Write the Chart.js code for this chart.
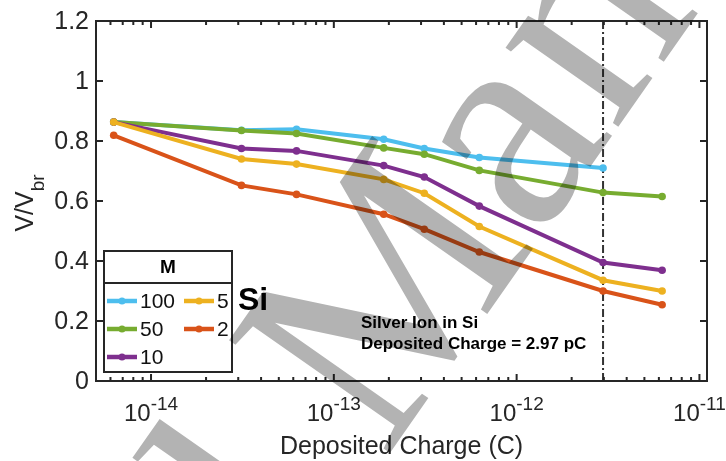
<!DOCTYPE html>
<html>
<head>
<meta charset="utf-8">
<script src="https://cdn.jsdelivr.net/npm/chart.js@4/dist/chart.umd.min.js"></script>
<style>
  html, body { margin: 0; padding: 0; background: #fff; }
  #wrap { width: 726px; height: 461px; }
  canvas { display: block; }
</style>
</head>
<body>
<div id="wrap"><canvas id="c" width="726" height="461"></canvas></div>
<script>
// Deposited charge (C) for each simulation point
const depositedCharge = [6.25e-15, 3.125e-14, 6.25e-14, 1.875e-13, 3.125e-13, 6.25e-13, 2.97e-12, 6.25e-12];

// Normalised voltage V/Vbr for each multiplication factor M
const vM100 = [0.863, 0.836, 0.839, 0.806, 0.775, 0.745, 0.710, null];
const vM50  = [0.863, 0.835, 0.825, 0.777, 0.756, 0.702, 0.628, 0.615];
const vM10  = [0.863, 0.775, 0.767, 0.718, 0.680, 0.583, 0.395, 0.369];
const vM5   = [0.863, 0.740, 0.723, 0.672, 0.626, 0.515, 0.336, 0.300];
const vM2   = [0.819, 0.652, 0.622, 0.556, 0.506, 0.430, 0.300, 0.254];

const seriesLabels = ['100', '50', '10', '5', '2'];
const seriesValues = [vM100, vM50, vM10, vM5, vM2];

// Axis ticks
const yTickValues = [0, 0.2, 0.4, 0.6, 0.8, 1, 1.2];
const yTickLabels = ['0', '0.2', '0.4', '0.6', '0.8', '1', '1.2'];
const xTickExponents = [-14, -13, -12, -11];
const xTickLabels = ['-14', '-13', '-12', '-11'];

// Reference charge marked with the vertical line
const markerCharge = 2.97e-12;

const colors = ['#4DBEEE', '#77AC30', '#7E2F8E', '#EDB120', '#D95319'];
const drawOrder = [5, 4, 3, 2, 1];

const AXIS = '#262626';
const SANS = '"Liberation Sans", Arial, sans-serif';

const datasets = seriesValues.map((vals, k) => ({
  label: seriesLabels[k],
  data: depositedCharge.map((x, i) => ({ x: x, y: vals[i] })).filter(p => p.y !== null),
  borderColor: colors[k],
  backgroundColor: colors[k],
  borderWidth: 4,
  pointRadius: 3.8,
  pointBorderWidth: 0,
  pointBackgroundColor: colors[k],
  tension: 0,
  order: drawOrder[k]
}));

const markerLine = {
  id: 'markerLine',
  beforeDatasetsDraw(chart) {
    const { ctx, chartArea: a, scales: { x } } = chart;
    const px = x.getPixelForValue(markerCharge);
    ctx.save();
    ctx.strokeStyle = '#333';
    ctx.lineWidth = 2;
    ctx.setLineDash([8, 3, 2, 3]);
    ctx.beginPath();
    ctx.moveTo(px, a.top);
    ctx.lineTo(px, a.bottom);
    ctx.stroke();
    ctx.restore();
  }
};

const axesFrame = {
  id: 'axesFrame',
  afterDatasetsDraw(chart) {
    const { ctx, chartArea: a, scales: { x, y } } = chart;
    ctx.save();
    ctx.strokeStyle = AXIS;
    ctx.fillStyle = AXIS;
    ctx.lineWidth = 2;
    ctx.strokeRect(a.left, a.top, a.right - a.left, a.bottom - a.top);

    // y ticks (inside, both sides) and labels
    ctx.font = '25px ' + SANS;
    ctx.textAlign = 'right';
    ctx.textBaseline = 'middle';
    yTickValues.forEach((v, i) => {
      const py = y.getPixelForValue(v);
      ctx.beginPath();
      ctx.moveTo(a.left, py); ctx.lineTo(a.left + 7, py);
      ctx.moveTo(a.right, py); ctx.lineTo(a.right - 7, py);
      ctx.stroke();
      ctx.fillText(yTickLabels[i], a.left - 7, py + 1);
    });

    // x ticks: decades and minor ticks
    for (let e = -15; e <= -11; e++) {
      for (let m = 1; m <= 9; m++) {
        const v = m * Math.pow(10, e);
        if (v < x.min || v > x.max) continue;
        const px = x.getPixelForValue(v);
        const len = m === 1 ? 7 : 4;
        ctx.beginPath();
        ctx.moveTo(px, a.bottom); ctx.lineTo(px, a.bottom - len);
        ctx.moveTo(px, a.top); ctx.lineTo(px, a.top + len);
        ctx.stroke();
      }
    }

    // x tick labels 10^n
    ctx.textAlign = 'left';
    ctx.textBaseline = 'alphabetic';
    xTickExponents.forEach((e, i) => {
      const px = x.getPixelForValue(Math.pow(10, e));
      ctx.font = '24px ' + SANS;
      const wBase = ctx.measureText('10').width;
      ctx.font = '19px ' + SANS;
      const wExp = ctx.measureText(xTickLabels[i]).width;
      const start = px - (wBase + wExp) / 2;
      ctx.font = '24px ' + SANS;
      ctx.fillText('10', start, 421);
      ctx.font = '19px ' + SANS;
      ctx.fillText(xTickLabels[i], start + wBase, 410);
    });

    // x axis title
    ctx.font = '25px ' + SANS;
    ctx.textAlign = 'center';
    ctx.fillText('Deposited Charge (C)', (a.left + a.right) / 2, 454);

    // y axis title V/V_br
    ctx.save();
    ctx.translate(33, (a.top + a.bottom) / 2 + 2);
    ctx.rotate(-Math.PI / 2);
    ctx.font = '25px ' + SANS;
    const wMain = ctx.measureText('V/V').width;
    ctx.font = '19px ' + SANS;
    const wSub = ctx.measureText('br').width;
    const s = -(wMain + wSub) / 2;
    ctx.textAlign = 'left';
    ctx.font = '25px ' + SANS;
    ctx.fillText('V/V', s, 0);
    ctx.font = '19px ' + SANS;
    ctx.fillText('br', s + wMain, 11);
    ctx.restore();

    ctx.restore();
  },
  afterDraw(chart) {
    const { ctx } = chart;
    ctx.save();

    // Legend box with header
    const L = 104, T = 251, R = 232, B = 372, H = 283;
    ctx.fillStyle = '#fff';
    ctx.fillRect(L, T, R - L, B - T);
    ctx.strokeStyle = AXIS;
    ctx.lineWidth = 2;
    ctx.strokeRect(L, T, R - L, B - T);
    ctx.beginPath();
    ctx.moveTo(L, H); ctx.lineTo(R, H);
    ctx.stroke();
    ctx.fillStyle = '#000';
    ctx.font = 'bold 19px ' + SANS;
    ctx.textAlign = 'center';
    ctx.textBaseline = 'middle';
    ctx.fillText('M', (L + R) / 2, 268);

    const slots = [[107, 301], [107, 329], [107, 357], [184, 301], [184, 329]];
    ctx.textAlign = 'left';
    ctx.font = '21px ' + SANS;
    seriesLabels.forEach((lab, k) => {
      const [sx, sy] = slots[k];
      ctx.strokeStyle = colors[k];
      ctx.fillStyle = colors[k];
      ctx.lineWidth = 4.5;
      ctx.beginPath();
      ctx.moveTo(sx, sy); ctx.lineTo(sx + 30, sy);
      ctx.stroke();
      ctx.beginPath();
      ctx.arc(sx + 15, sy, 3.5, 0, Math.PI * 2);
      ctx.fill();
      ctx.fillStyle = '#111';
      ctx.fillText(lab, sx + 33, sy + 1);
    });

    // Annotations
    ctx.fillStyle = '#000';
    ctx.textBaseline = 'alphabetic';
    ctx.font = 'bold 32px ' + SANS;
    ctx.fillText('Si', 238, 310);
    ctx.font = 'bold 17px ' + SANS;
    ctx.fillText('Silver Ion in Si', 361, 328);
    ctx.fillText('Deposited Charge = 2.97 pC', 361, 349);

    // Diagonal overlay text
    ctx.globalCompositeOperation = 'multiply';
    ctx.fillStyle = '#b3b3b3';
    ctx.font = '300px "Liberation Serif", "Times New Roman", serif';
    ctx.translate(385, 460);
    ctx.rotate(-55 * Math.PI / 180);
    const lead = ctx.measureText('Accepted ').width;
    ctx.fillText('Accepted Manuscript', -lead, 0);
    ctx.restore();
  }
};

new Chart(document.getElementById('c'), {
  type: 'line',
  data: { datasets: datasets },
  options: {
    responsive: false,
    animation: false,
    layout: { padding: { left: 96, right: 19, top: 21, bottom: 80 } },
    scales: {
      x: { type: 'logarithmic', min: 5e-15, max: 1.1e-11, display: false },
      y: { type: 'linear', min: 0, max: 1.2, display: false }
    },
    plugins: { legend: { display: false }, tooltip: { enabled: false } }
  },
  plugins: [markerLine, axesFrame]
});
</script>
</body>
</html>
